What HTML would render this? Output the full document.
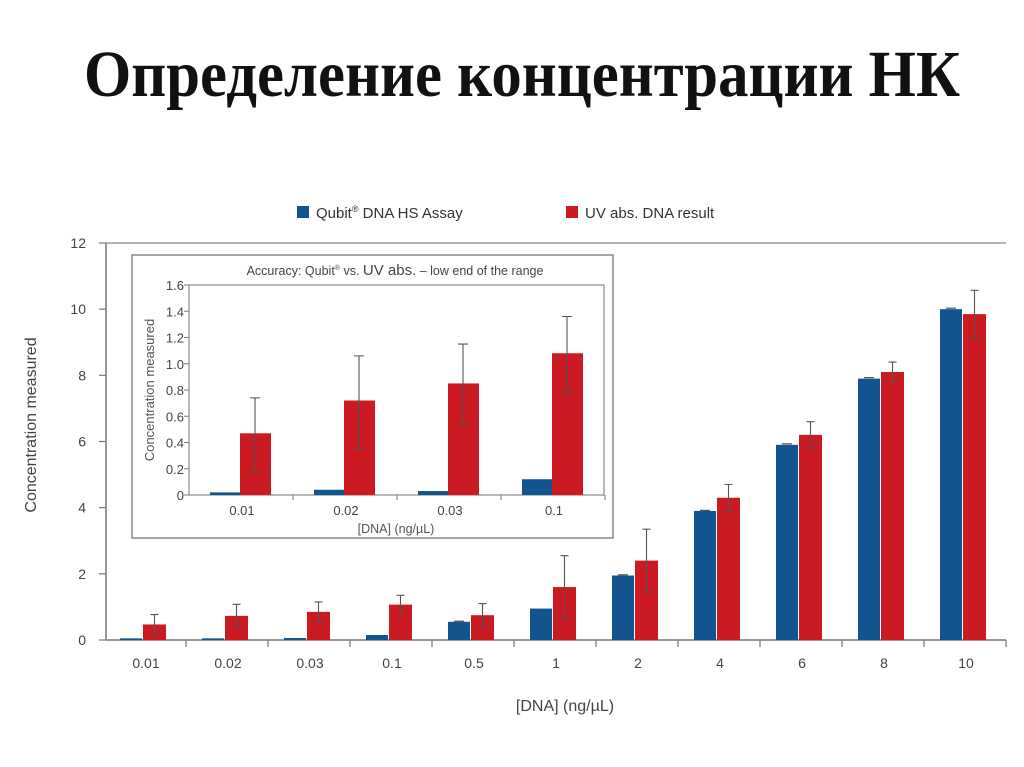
<!DOCTYPE html>
<html><head><meta charset="utf-8"><style>
body{margin:0;background:#fff;}
svg{display:block;font-family:"Liberation Sans",Arial,sans-serif;}
</style></head><body>
<svg id="c" width="1024" height="767" viewBox="0 0 1024 767" xmlns="http://www.w3.org/2000/svg">
<text x="84" y="96" textLength="876" lengthAdjust="spacingAndGlyphs" font-family="Liberation Serif,serif" font-weight="bold" font-size="66" fill="#111">Определение концентрации НК</text>
<g>
<rect x="297" y="206" width="12" height="12" fill="#12548f"/>
<text x="316" y="218" font-size="15" fill="#333">Qubit<tspan font-size="9" dy="-6">®</tspan><tspan dy="6"> DNA HS Assay</tspan></text>
<rect x="566" y="206" width="12" height="12" fill="#cc1a22"/>
<text x="585" y="218" font-size="15" fill="#333">UV abs. DNA result</text>
</g>
<text transform="translate(36,425) rotate(-90)" text-anchor="middle" font-size="16" fill="#444">Concentration measured</text>
<text x="565" y="711" text-anchor="middle" font-size="16" fill="#444">[DNA] (ng/µL)</text>
<g id="main"></g>
<rect x="132" y="255" width="481" height="283" fill="#fff" stroke="#888" stroke-width="1.5"/>
<text x="395" y="275" text-anchor="middle" font-size="12.5" fill="#444">Accuracy: Qubit<tspan font-size="7" dy="-5">®</tspan><tspan dy="5"> vs. </tspan><tspan font-size="15">UV abs.</tspan> – low end of the range</text>
<text transform="translate(154,390) rotate(-90)" text-anchor="middle" font-size="13" fill="#555">Concentration measured</text>
<text x="396" y="533" text-anchor="middle" font-size="12.5" fill="#555">[DNA] (ng/µL)</text>
<g id="inset"></g>
</svg>
<script>
const mainCats=["0.01","0.02","0.03","0.1","0.5","1","2","4","6","8","10"];
const mainBlue=[0.05,0.05,0.06,0.15,0.55,0.95,1.95,3.9,5.9,7.9,10.0];
const mainRed=[0.47,0.73,0.85,1.07,0.75,1.6,2.4,4.3,6.2,8.1,9.85];
const mainRedErr=[0.3,0.35,0.3,0.28,0.35,0.95,0.95,0.4,0.4,0.3,0.72];
const mainBlueErr=[0,0,0,0,0.02,0,0.02,0.02,0.03,0.03,0.03];
const mainTicks=[0,2,4,6,8,10,12];
const insetCats=["0.01","0.02","0.03","0.1"];
const insetBlue=[0.02,0.04,0.03,0.12];
const insetRed=[0.47,0.72,0.85,1.08];
const insetErrHi=[0.74,1.06,1.15,1.36];
const insetErrLo=[0.18,0.35,0.54,0.78];
const insetTicks=[0,0.2,0.4,0.6,0.8,1.0,1.2,1.4,1.6];
const NS="http://www.w3.org/2000/svg";
function mk(p,t,a){const e=document.createElementNS(NS,t);for(const k in a)e.setAttribute(k,a[k]);p.appendChild(e);return e;}
const BLUE="#12548f",RED="#cc1a22";
// main
const gm=document.getElementById('main');
const mx0=104,mstep=82,my=v=>640-v*(397/12);
const mxc=i=>mx0+mstep*i+39;
mainTicks.forEach(t=>{
 const l=mk(gm,'line',{x1:99,x2:106,y1:my(t),y2:my(t),stroke:'#777','stroke-width':1.2});
 
 
 const tx=mk(gm,'text',{x:86,y:my(t)+5,'text-anchor':'end','font-size':14,fill:'#444'});tx.textContent=t;
 
 
});
let ax=mk(gm,'line',{x1:106,x2:106,y1:my(12),y2:640,stroke:'#777','stroke-width':1.5});


ax=mk(gm,'line',{x1:106,x2:1006,y1:640,y2:640,stroke:'#777','stroke-width':1.5});


ax=mk(gm,'line',{x1:106,x2:1006,y1:my(12),y2:my(12),stroke:'#888','stroke-width':1.2});


mainCats.forEach((c,i)=>{
 const cx=mxc(i);
 const tk=mk(gm,'line',{x1:mx0+mstep*(i+1),x2:mx0+mstep*(i+1),y1:640,y2:647,stroke:'#777','stroke-width':1.2});
 
 
 const tx=mk(gm,'text',{x:cx+3,y:668,'text-anchor':'middle','font-size':14,fill:'#444'});tx.textContent=c;
 
 
 const b=mk(gm,'rect',{x:cx-23,y:my(mainBlue[i]),width:22,height:640-my(mainBlue[i]),fill:BLUE});
 
 
 const r=mk(gm,'rect',{x:cx,y:my(mainRed[i]),width:23,height:640-my(mainRed[i]),fill:RED});
 
 
 const ex=cx+11.5,hi=my(mainRed[i]+mainRedErr[i]),lo=my(Math.max(0,mainRed[i]-mainRedErr[i]));
 const e=mk(gm,'path',{d:`M${ex} ${hi}V${lo}M${ex-4} ${hi}H${ex+4}M${ex-4} ${lo}H${ex+4}`,stroke:'#555','stroke-width':1.1,fill:'none'});
 
 
 if(mainBlueErr[i]>0){const bx=cx-12,h2=my(mainBlue[i]+mainBlueErr[i]);
  const e2=mk(gm,'path',{d:`M${bx-5} ${h2}H${bx+5}`,stroke:'#333','stroke-width':1,fill:'none'});
  
  }
});
// inset
const gi=document.getElementById('inset');
const ix0=189,istep=104,iy=v=>495-v*(210/1.6);
insetTicks.forEach(t=>{
 const l=mk(gi,'line',{x1:184,x2:189,y1:iy(t),y2:iy(t),stroke:'#777','stroke-width':1});
 
 
 const tx=mk(gi,'text',{x:184,y:iy(t)+5,'text-anchor':'end','font-size':13,fill:'#444'});tx.textContent=t===0?'0':t.toFixed(1);
 
 
});
let f=mk(gi,'rect',{x:189,y:iy(1.6),width:415,height:495-iy(1.6),fill:'none',stroke:'#888','stroke-width':1.2});


insetCats.forEach((c,i)=>{
 const cx=ix0+istep*i+51;
 const tk=mk(gi,'line',{x1:ix0+istep*(i+1),x2:ix0+istep*(i+1),y1:495,y2:500,stroke:'#777','stroke-width':1});
 
 
 const tx=mk(gi,'text',{x:cx+2,y:515,'text-anchor':'middle','font-size':13,fill:'#444'});tx.textContent=c;
 
 
 const b=mk(gi,'rect',{x:cx-30,y:iy(insetBlue[i]),width:30,height:495-iy(insetBlue[i]),fill:BLUE});
 
 
 const r=mk(gi,'rect',{x:cx,y:iy(insetRed[i]),width:31,height:495-iy(insetRed[i]),fill:RED});
 
 
 const ex=cx+15,hi=iy(insetErrHi[i]),lo=iy(insetErrLo[i]);
 const e=mk(gi,'path',{d:`M${ex} ${hi}V${lo}M${ex-5} ${hi}H${ex+5}M${ex-5} ${lo}H${ex+5}`,stroke:'#555','stroke-width':1.1,fill:'none'});
 
 
});
</script>
</body></html>
